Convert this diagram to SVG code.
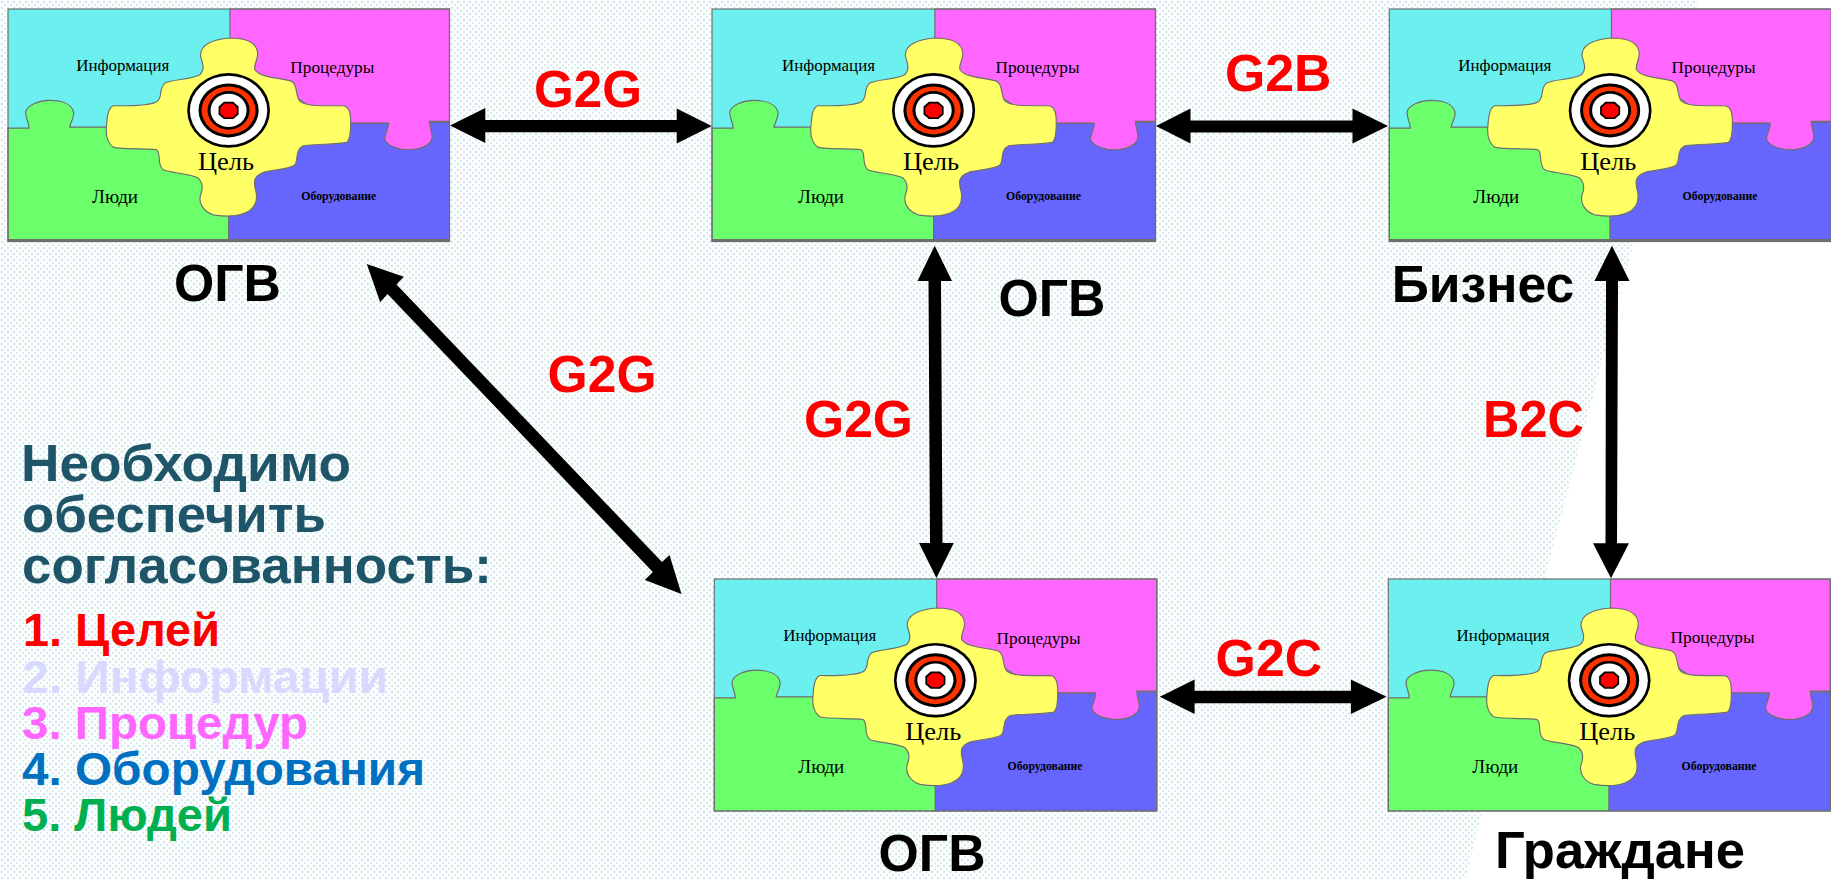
<svg xmlns="http://www.w3.org/2000/svg" width="1831" height="879" viewBox="0 0 1831 879">
<style>
.lbl{font-family:"Liberation Serif","Times New Roman",serif;fill:#000}
.i{font-size:17px}.c{font-size:26px}.p{font-size:18px}.o{font-size:13px;font-weight:bold}
.big{font-family:"Liberation Sans",Arial,sans-serif;font-weight:bold;font-size:52px}
.red{fill:#ff0000}.blk{fill:#000}
.head{fill:#1f5569}
.li{font-family:"Liberation Sans",Arial,sans-serif;font-weight:bold;font-size:46px}
.edge{stroke:#6e6e6e;stroke-width:3.5;fill:none}
.arrow{fill:#000}
</style>
<defs>
<pattern id="dots" width="6" height="6" patternUnits="userSpaceOnUse">
<rect width="6" height="6" fill="#fcfefe"/>
<rect x="1" y="1" width="2" height="2" fill="#cfe6ec"/>
<rect x="4" y="4" width="2" height="2" fill="#dcedf1"/>
</pattern>
<symbol id="puzzle" viewBox="25 28 1323 697" preserveAspectRatio="none" overflow="visible">
<rect x="25" y="28" width="1323" height="697" fill="#6befef"/>
<path class="edge" style="fill:#6bff6b" d="M25 385H88C88 370 78 355 78 338C82 315 120 302 150 302C185 302 218 312 222 340C222 355 212 370 210 382H686V725H25Z"/>
<path class="edge" style="fill:#6666ff" d="M686 725V560L1000 370H1165C1168 385 1155 400 1155 418C1165 440 1200 450 1230 450C1265 448 1295 435 1295 412C1295 395 1288 380 1288 367H1348V725Z"/>
<path class="edge" style="fill:#ff66ff" d="M690 28H1348V365H1288C1288 380 1296 395 1296 412C1294 435 1262 450 1225 450C1195 450 1160 438 1154 418C1154 400 1167 385 1165 370H1000L900 300L690 200Z"/>
<path class="edge" style="fill:#ffff66" d="M690 115C730 115 770 125 773 160C775 180 760 195 765 210C780 235 850 235 875 245C895 255 885 290 900 305C920 320 960 318 1030 318C1050 322 1052 345 1052 370C1052 390 1052 420 1040 428C1010 435 950 432 910 438C885 450 895 480 885 495C870 510 810 510 790 518C760 530 760 545 768 575C775 610 760 630 735 640C710 650 670 650 640 645C610 635 595 610 602 585C612 560 605 545 595 535C570 520 510 520 490 510C470 495 485 460 470 450C440 445 370 450 340 442C318 425 318 400 320 380C322 350 325 325 340 318C380 318 450 320 472 305C490 290 475 270 495 250C520 238 575 240 600 225C615 210 610 195 602 170C600 140 630 120 690 115Z"/>
<ellipse cx="686" cy="332" rx="124" ry="112" fill="#000"/>
<ellipse cx="686" cy="332" rx="116" ry="104" fill="#fff"/>
<ellipse cx="686" cy="332" rx="90" ry="81" fill="#000"/>
<ellipse cx="686" cy="332" rx="81" ry="72" fill="#ff3300"/>
<ellipse cx="686" cy="332" rx="63" ry="58" fill="#000"/>
<ellipse cx="686" cy="332" rx="54" ry="50" fill="#fff"/>
<polygon points="672,306 700,306 716,320 716,344 700,358 672,358 656,344 656,320" fill="#000"/>
<polygon points="675,311 697,311 711,323 711,341 697,353 675,353 661,341 661,323" fill="#ff0000"/>
<rect class="edge" x="25" y="28" width="1323" height="697"/>
</symbol>
</defs>
<rect width="1831" height="879" fill="#fff"/>
<polygon points="0,0 1698,0 1465,879 0,879" fill="url(#dots)"/>

<g id="node-ogv-1" transform="translate(8,9)">
<use href="#puzzle" width="441.5" height="232.5"/>
<rect y="230" width="441.5" height="3" fill="#6e6e6e"/>
<text class="lbl i" x="68.3" y="62.3" textLength="93" lengthAdjust="spacingAndGlyphs">Информация</text>
<text class="lbl i" x="282.3" y="64" textLength="84" lengthAdjust="spacingAndGlyphs">Процедуры</text>
<text class="lbl c" x="190" y="161.3" textLength="56" lengthAdjust="spacingAndGlyphs">Цель</text>
<text class="lbl p" x="84" y="194" textLength="46" lengthAdjust="spacingAndGlyphs">Люди</text>
<text class="lbl o" x="293.3" y="190.7" textLength="75" lengthAdjust="spacingAndGlyphs">Оборудование</text>
</g>
<g id="node-ogv-2" transform="translate(712,9)">
<use href="#puzzle" width="443.5" height="232.5"/>
<rect y="230" width="443.5" height="3" fill="#6e6e6e"/>
<text class="lbl i" x="70" y="62.3" textLength="93" lengthAdjust="spacingAndGlyphs">Информация</text>
<text class="lbl i" x="283.5" y="64" textLength="84" lengthAdjust="spacingAndGlyphs">Процедуры</text>
<text class="lbl c" x="191" y="161.3" textLength="56" lengthAdjust="spacingAndGlyphs">Цель</text>
<text class="lbl p" x="86" y="194" textLength="46" lengthAdjust="spacingAndGlyphs">Люди</text>
<text class="lbl o" x="294" y="190.7" textLength="75" lengthAdjust="spacingAndGlyphs">Оборудование</text>
</g>
<g id="node-business" transform="translate(1389.3,9)">
<use href="#puzzle" width="442" height="232.5"/>
<rect y="230" width="442" height="3" fill="#6e6e6e"/>
<text class="lbl i" x="69" y="62.3" textLength="93" lengthAdjust="spacingAndGlyphs">Информация</text>
<text class="lbl i" x="282.3" y="64" textLength="84" lengthAdjust="spacingAndGlyphs">Процедуры</text>
<text class="lbl c" x="191" y="161.3" textLength="56" lengthAdjust="spacingAndGlyphs">Цель</text>
<text class="lbl p" x="84" y="194" textLength="46" lengthAdjust="spacingAndGlyphs">Люди</text>
<text class="lbl o" x="293.3" y="190.7" textLength="75" lengthAdjust="spacingAndGlyphs">Оборудование</text>
</g>
<g id="node-ogv-3" transform="translate(714.3,579)">
<use href="#puzzle" width="442.5" height="232"/>
<text class="lbl i" x="69" y="62.3" textLength="93" lengthAdjust="spacingAndGlyphs">Информация</text>
<text class="lbl i" x="282.3" y="65" textLength="84" lengthAdjust="spacingAndGlyphs">Процедуры</text>
<text class="lbl c" x="191" y="161.3" textLength="56" lengthAdjust="spacingAndGlyphs">Цель</text>
<text class="lbl p" x="84" y="194" textLength="46" lengthAdjust="spacingAndGlyphs">Люди</text>
<text class="lbl o" x="293.3" y="190.7" textLength="75" lengthAdjust="spacingAndGlyphs">Оборудование</text>
</g>
<g id="node-citizens" transform="translate(1388.3,579)">
<use href="#puzzle" width="442" height="232"/>
<text class="lbl i" x="68.3" y="62.3" textLength="93" lengthAdjust="spacingAndGlyphs">Информация</text>
<text class="lbl i" x="282.3" y="64" textLength="84" lengthAdjust="spacingAndGlyphs">Процедуры</text>
<text class="lbl c" x="191" y="161.3" textLength="56" lengthAdjust="spacingAndGlyphs">Цель</text>
<text class="lbl p" x="84" y="194" textLength="46" lengthAdjust="spacingAndGlyphs">Люди</text>
<text class="lbl o" x="293.3" y="190.7" textLength="75" lengthAdjust="spacingAndGlyphs">Оборудование</text>
</g>

<g id="connectors" class="arrow">
<polygon points="450,125.5 485.3,108 485.3,120 676.7,120 676.7,108.5 711.7,126 676.7,143.5 676.7,132.3 485.3,132.3 485.3,143"/>
<polygon points="1156,126 1190.5,108.5 1190.5,120.5 1352.5,120.5 1352.5,108.5 1388,126 1352.5,143.5 1352.5,132.5 1190.5,132.5 1190.5,143.5"/>
<polygon points="934.7,245.7 952,281 941,281 942.5,543 953.8,543 936.4,578 919,543 930,543 928.5,281 917.5,281"/>
<polygon points="1612,245.7 1629.5,281 1618,281 1617,543.3 1629,543.3 1611,578.3 1593,543.3 1605.5,543.3 1606,281 1594.5,281"/>
<polygon points="1159.8,696.7 1194.6,679.5 1194.6,690.7 1350.9,690.7 1350.9,679.5 1386.6,696.7 1350.9,714 1350.9,703.3 1194.6,703.3 1194.6,714"/>
<polygon points="366.8,264 403.8,276.7 396.5,284.5 662,562 669.5,555 681.5,594 644.9,580 652.8,572 387.5,294 380.2,302.3"/>
</g>

<g id="labels">
<text class="big red" x="534" y="107" textLength="108" lengthAdjust="spacingAndGlyphs">G2G</text>
<text class="big red" x="1225" y="91" textLength="106.5" lengthAdjust="spacingAndGlyphs">G2B</text>
<text class="big red" x="547.6" y="392" textLength="109" lengthAdjust="spacingAndGlyphs">G2G</text>
<text class="big red" x="804" y="437" textLength="109" lengthAdjust="spacingAndGlyphs">G2G</text>
<text class="big red" x="1483" y="436.5" textLength="101" lengthAdjust="spacingAndGlyphs">B2C</text>
<text class="big red" x="1215.6" y="676" textLength="106.5" lengthAdjust="spacingAndGlyphs">G2C</text>
<text class="big blk" x="174" y="301" textLength="107" lengthAdjust="spacingAndGlyphs">ОГВ</text>
<text class="big blk" x="998.5" y="316" textLength="107" lengthAdjust="spacingAndGlyphs">ОГВ</text>
<text class="big blk" x="878.6" y="871" textLength="107" lengthAdjust="spacingAndGlyphs">ОГВ</text>
<text class="big blk" x="1391.7" y="301.5" textLength="182.5" lengthAdjust="spacingAndGlyphs">Бизнес</text>
<text class="big blk" x="1495" y="868" textLength="250" lengthAdjust="spacingAndGlyphs">Граждане</text>
</g>

<g id="legend">
<text class="big head" x="21" y="481" textLength="330" lengthAdjust="spacingAndGlyphs">Необходимо</text>
<text class="big head" x="22" y="531.7" textLength="304" lengthAdjust="spacingAndGlyphs">обеспечить</text>
<text class="big head" x="22" y="583" textLength="470" lengthAdjust="spacingAndGlyphs">согласованность:</text>
<text class="li" x="23" y="646" fill="#ff0000" textLength="197" lengthAdjust="spacingAndGlyphs">1. Целей</text>
<text class="li" x="22" y="692.7" fill="#d9d9ff" textLength="366" lengthAdjust="spacingAndGlyphs">2. Информации</text>
<text class="li" x="22" y="739" fill="#ff66ff" textLength="286" lengthAdjust="spacingAndGlyphs">3. Процедур</text>
<text class="li" x="22" y="785" fill="#0070c0" textLength="403" lengthAdjust="spacingAndGlyphs">4. Оборудования</text>
<text class="li" x="22" y="831" fill="#00b050" textLength="210" lengthAdjust="spacingAndGlyphs">5. Людей</text>
</g>
</svg>
